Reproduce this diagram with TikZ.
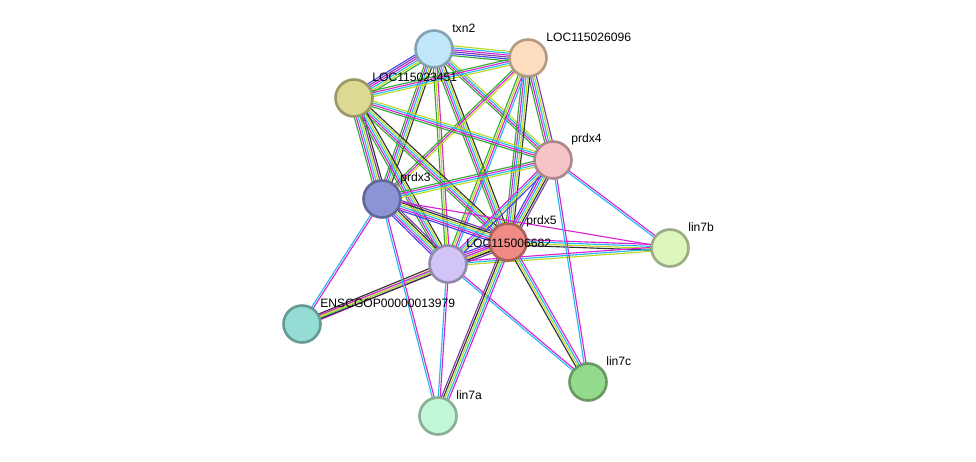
\documentclass[tikz,border=0pt]{standalone}
\usepackage{fontspec}
\setmainfont{Liberation Sans}
\usetikzlibrary{calc, backgrounds}

\definecolor{cdb}{HTML}{22BBEE}
\definecolor{cexp}{HTML}{D822D8}
\definecolor{ctm}{HTML}{BBD822}
\definecolor{ccoe}{HTML}{333333}
\definecolor{cnb}{HTML}{33AA33}
\definecolor{cco}{HTML}{4444EE}
\definecolor{chom}{HTML}{7A3FA8}

\tikzset{
  prot/.style={circle, draw=#1!70!black, fill=#1, line width=1.5pt,
    minimum size=0.74cm, inner sep=0pt},
  lbl/.style={anchor=west, inner sep=0pt, font=\fontsize{6.9}{8}\selectfont}
}

% bundle of parallel coloured lines between two proteins
\newcommand\ppi[4]{%
  \foreach \c [count=\k] in {#4} {
    \pgfmathsetmacro\off{(\k-(#3+1)/2)*1.1}
    \draw[\c, line width=0.65pt] ($(#1)!\off pt!90:(#2)$) -- ($(#2)!\off pt!-90:(#1)$);
  }}

\begin{document}
\begin{tikzpicture}[x=0.02cm, y=-0.02cm]
\useasboundingbox (0,0) rectangle (976,462);
% Proteins
\definecolor{ftxn}{HTML}{C0E6FA}
\definecolor{fsix}{HTML}{FDDDBE}
\definecolor{fthree}{HTML}{DCDA92}
\definecolor{fpfour}{HTML}{F6C3C6}
\definecolor{fpthree}{HTML}{8C94D6}
\definecolor{fpfive}{HTML}{F08A84}
\definecolor{feight}{HTML}{D2C4F6}
\definecolor{fbee}{HTML}{DEF6BC}
\definecolor{fens}{HTML}{94DCD4}
\definecolor{fcee}{HTML}{94DA8C}
\definecolor{faa}{HTML}{C2F8D8}
\node[prot=ftxn] (txn2) at (434,49) {};
\node[prot=fsix] (loc6) at (528,58) {};
\node[prot=fthree] (loc3) at (354,98) {};
\node[prot=fpfour] (prdx4) at (553,160) {};
\node[prot=fpthree] (prdx3) at (382,199) {};
\node[prot=fpfive] (prdx5) at (508,242) {};
\node[prot=feight] (loc82) at (448,264) {};
\node[prot=fbee] (lin7b) at (670,248) {};
\node[prot=fens] (ens) at (302,324) {};
\node[prot=fcee] (lin7c) at (588,382) {};
\node[prot=faa] (lin7a) at (438,416) {};
% Labels
\foreach \n/\t in {txn2/txn2, loc6/LOC115026096, loc3/LOC115023451, prdx4/prdx4,
    prdx3/prdx3, prdx5/prdx5, loc82/LOC115006682, lin7b/lin7b,
    ens/ENSCGOP00000013979, lin7c/lin7c, lin7a/lin7a}
  \node[lbl] (\n-l) at ($(\n)+(18,-21)$) {\t};
% Interactions
\begin{pgfonlayer}{background}
\ppi{txn2}{loc6}{6}{cnb,cco,chom,cexp,cdb,ctm}
\ppi{txn2}{loc3}{6}{cco,chom,cexp,cdb,ctm,cnb}
\ppi{txn2}{prdx4}{4}{cnb,cexp,cdb,ctm}
\ppi{txn2}{prdx3}{5}{cnb,cexp,cdb,ctm,ccoe}
\ppi{txn2}{prdx5}{5}{cnb,cexp,cdb,ctm,ccoe}
\ppi{txn2}{loc82}{3}{cnb,ctm,cexp}
\ppi{loc6}{loc3}{4}{cnb,cexp,cdb,ctm}
\ppi{loc6}{prdx4}{5}{cnb,cexp,cdb,ctm,chom}
\ppi{loc6}{prdx3}{3}{cnb,cexp,ctm}
\ppi{loc6}{prdx5}{5}{cnb,cexp,cdb,ctm,ccoe}
\ppi{loc6}{loc82}{4}{cnb,ctm,cexp,cdb}
\ppi{loc3}{prdx4}{4}{cnb,cexp,cdb,ctm}
\ppi{loc3}{prdx3}{6}{cnb,cexp,cdb,ctm,chom,ccoe}
\ppi{loc3}{prdx5}{5}{cnb,cexp,cdb,ctm,ccoe}
\ppi{loc3}{loc82}{5}{cnb,cexp,cdb,ctm,ccoe}
\ppi{prdx4}{prdx3}{4}{cnb,cexp,cdb,ctm}
\ppi{prdx4}{prdx5}{6}{cco,cexp,cdb,ctm,ccoe,chom}
\ppi{prdx4}{loc82}{4}{cexp,cdb,ctm,cco}
\ppi{prdx3}{prdx5}{6}{cco,cexp,cdb,ctm,ccoe,chom}
\ppi{prdx3}{loc82}{6}{cco,cexp,cdb,ctm,ccoe,chom}
\ppi{prdx5}{loc82}{6}{cco,cexp,cdb,ctm,ccoe,chom}
\ppi{lin7b}{prdx4}{2}{cexp,cdb}
\ppi{lin7b}{prdx5}{4}{cexp,cdb,ctm,ccoe}
\ppi{lin7b}{loc82}{3}{cexp,cdb,ctm}
\ppi{lin7b}{prdx3}{1}{cexp}
\ppi{ens}{prdx3}{2}{cexp,cdb}
\ppi{ens}{loc82}{4}{cexp,cdb,ctm,ccoe}
\ppi{ens}{prdx5}{3}{ccoe,ctm,cexp}
\ppi{lin7c}{prdx4}{2}{cexp,cdb}
\ppi{lin7c}{prdx5}{4}{cexp,cdb,ctm,ccoe}
\ppi{lin7c}{loc82}{2}{cexp,cdb}
\ppi{lin7a}{prdx3}{2}{cexp,cdb}
\ppi{lin7a}{loc82}{2}{cexp,cdb}
\ppi{lin7a}{prdx5}{5}{cexp,cdb,ctm,ccoe,chom}
\end{pgfonlayer}
\end{tikzpicture}
\end{document}
